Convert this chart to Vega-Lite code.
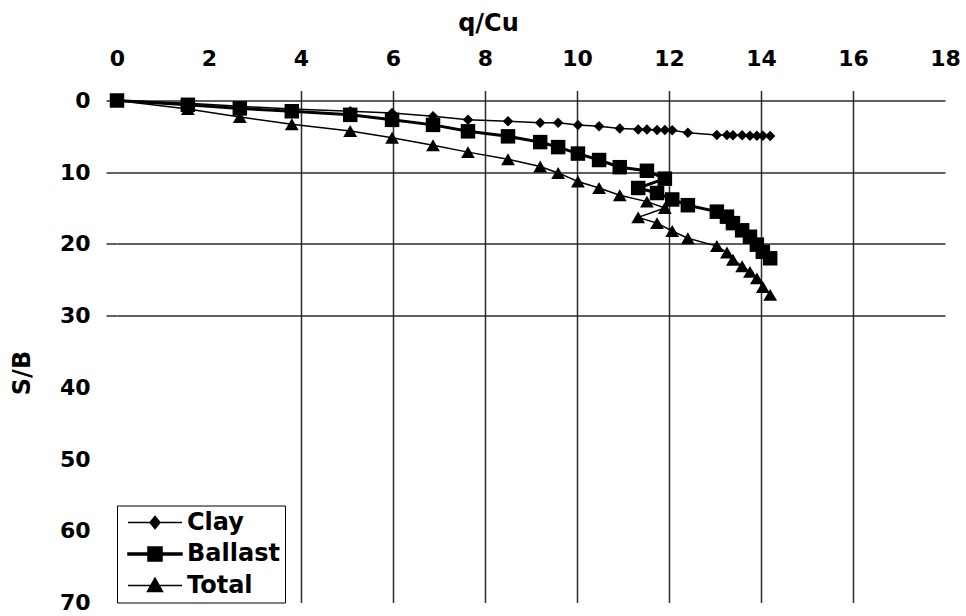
{
  "$schema": "https://vega.github.io/schema/vega-lite/v6.json",
  "width": 828,
  "height": 502,
  "autosize": {"type": "none"},
  "padding": {"left": 117, "top": 100.5, "right": 21, "bottom": 13.5},
  "background": "white",
  "config": {"view": {"stroke": null}, "font": "DejaVu Sans"},
  "data": {
    "values": [
      {"series": "Clay", "q": 0, "s": 0},
      {"series": "Clay", "q": 1.54, "s": 0.4},
      {"series": "Clay", "q": 2.67, "s": 0.8},
      {"series": "Clay", "q": 3.8, "s": 1.2},
      {"series": "Clay", "q": 5.07, "s": 1.5},
      {"series": "Clay", "q": 5.98, "s": 1.75},
      {"series": "Clay", "q": 6.87, "s": 2.2},
      {"series": "Clay", "q": 7.63, "s": 2.7},
      {"series": "Clay", "q": 8.5, "s": 2.9},
      {"series": "Clay", "q": 9.2, "s": 3.1},
      {"series": "Clay", "q": 9.59, "s": 3.1},
      {"series": "Clay", "q": 10.02, "s": 3.4},
      {"series": "Clay", "q": 10.48, "s": 3.6},
      {"series": "Clay", "q": 10.93, "s": 3.9},
      {"series": "Clay", "q": 11.52, "s": 4.05},
      {"series": "Clay", "q": 11.91, "s": 4.1},
      {"series": "Clay", "q": 11.33, "s": 4.05},
      {"series": "Clay", "q": 11.74, "s": 4.1},
      {"series": "Clay", "q": 12.07, "s": 4.15},
      {"series": "Clay", "q": 12.41, "s": 4.5},
      {"series": "Clay", "q": 13.04, "s": 4.8},
      {"series": "Clay", "q": 13.26, "s": 4.8},
      {"series": "Clay", "q": 13.39, "s": 4.85},
      {"series": "Clay", "q": 13.59, "s": 4.85},
      {"series": "Clay", "q": 13.76, "s": 4.9},
      {"series": "Clay", "q": 13.91, "s": 4.9},
      {"series": "Clay", "q": 14.04, "s": 4.9},
      {"series": "Clay", "q": 14.2, "s": 4.95},
      {"series": "Ballast", "q": 0, "s": 0},
      {"series": "Ballast", "q": 1.54, "s": 0.6},
      {"series": "Ballast", "q": 2.67, "s": 1.1},
      {"series": "Ballast", "q": 3.8, "s": 1.5},
      {"series": "Ballast", "q": 5.07, "s": 2.0},
      {"series": "Ballast", "q": 5.98, "s": 2.7},
      {"series": "Ballast", "q": 6.87, "s": 3.4},
      {"series": "Ballast", "q": 7.63, "s": 4.3},
      {"series": "Ballast", "q": 8.5, "s": 5.0},
      {"series": "Ballast", "q": 9.2, "s": 5.8},
      {"series": "Ballast", "q": 9.59, "s": 6.5},
      {"series": "Ballast", "q": 10.02, "s": 7.4},
      {"series": "Ballast", "q": 10.48, "s": 8.3},
      {"series": "Ballast", "q": 10.93, "s": 9.3},
      {"series": "Ballast", "q": 11.52, "s": 9.8},
      {"series": "Ballast", "q": 11.91, "s": 10.9},
      {"series": "Ballast", "q": 11.33, "s": 12.2},
      {"series": "Ballast", "q": 11.74, "s": 12.9},
      {"series": "Ballast", "q": 12.07, "s": 13.8},
      {"series": "Ballast", "q": 12.41, "s": 14.6},
      {"series": "Ballast", "q": 13.04, "s": 15.5},
      {"series": "Ballast", "q": 13.26, "s": 16.2},
      {"series": "Ballast", "q": 13.39, "s": 17.1},
      {"series": "Ballast", "q": 13.59, "s": 18.1},
      {"series": "Ballast", "q": 13.76, "s": 19.0},
      {"series": "Ballast", "q": 13.91, "s": 20.1},
      {"series": "Ballast", "q": 14.04, "s": 21.1},
      {"series": "Ballast", "q": 14.2, "s": 22.0},
      {"series": "Total", "q": 0, "s": 0},
      {"series": "Total", "q": 1.54, "s": 1.2},
      {"series": "Total", "q": 2.67, "s": 2.3},
      {"series": "Total", "q": 3.8, "s": 3.3},
      {"series": "Total", "q": 5.07, "s": 4.25},
      {"series": "Total", "q": 5.98, "s": 5.2},
      {"series": "Total", "q": 6.87, "s": 6.25},
      {"series": "Total", "q": 7.63, "s": 7.2},
      {"series": "Total", "q": 8.5, "s": 8.2},
      {"series": "Total", "q": 9.2, "s": 9.2},
      {"series": "Total", "q": 9.59, "s": 10.1},
      {"series": "Total", "q": 10.02, "s": 11.3},
      {"series": "Total", "q": 10.48, "s": 12.2},
      {"series": "Total", "q": 10.93, "s": 13.2},
      {"series": "Total", "q": 11.52, "s": 14.1},
      {"series": "Total", "q": 11.91, "s": 15.0},
      {"series": "Total", "q": 11.33, "s": 16.3},
      {"series": "Total", "q": 11.74, "s": 17.1},
      {"series": "Total", "q": 12.07, "s": 18.2},
      {"series": "Total", "q": 12.41, "s": 19.2},
      {"series": "Total", "q": 13.04, "s": 20.3},
      {"series": "Total", "q": 13.26, "s": 21.2},
      {"series": "Total", "q": 13.39, "s": 22.2},
      {"series": "Total", "q": 13.59, "s": 23.1},
      {"series": "Total", "q": 13.76, "s": 23.9},
      {"series": "Total", "q": 13.91, "s": 24.8},
      {"series": "Total", "q": 14.04, "s": 26.0},
      {"series": "Total", "q": 14.2, "s": 27.1}
    ]
  },
  "encoding": {
    "x": {
      "field": "q",
      "type": "quantitative",
      "scale": {"domain": [0, 18], "nice": false, "zero": false},
      "axis": {
        "orient": "top",
        "title": "q/Cu",
        "values": [0, 2, 4, 6, 8, 10, 12, 14, 16, 18],
        "domain": false,
        "grid": true,
        "gridColor": "#2b2b2b",
        "gridWidth": 1.5,
        "gridOpacity": {"condition": {"test": "datum.value >= 4 && datum.value <= 16", "value": 1}, "value": 0},
        "ticks": true,
        "tickSize": 10,
        "tickColor": "#2b2b2b",
        "tickWidth": 1.5,
        "tickOpacity": {"condition": {"test": "datum.value >= 4 && datum.value <= 16", "value": 1}, "value": 0},
        "labelFont": "DejaVu Sans",
        "labelFontSize": 22,
        "labelFontWeight": "bold",
        "labelColor": "black",
        "labelPadding": 25.5,
        "labelBaseline": "alphabetic",
        "labelFlush": false,
        "labelOverlap": false,
        "titleFont": "DejaVu Sans",
        "titleFontSize": 24,
        "titleFontWeight": "bold",
        "titleColor": "black",
        "titleX": 371,
        "titleY": -70.5,
        "titleAlign": "center",
        "titleBaseline": "alphabetic",
        "titleAngle": 0
      }
    },
    "y": {
      "field": "s",
      "type": "quantitative",
      "scale": {"domain": [0, 70], "reverse": true, "nice": false, "zero": false},
      "axis": {
        "orient": "left",
        "title": "S/B",
        "values": [0, 10, 20, 30, 40, 50, 60, 70],
        "domain": false,
        "grid": true,
        "gridColor": "#2b2b2b",
        "gridWidth": 1.5,
        "gridOpacity": {"condition": {"test": "datum.value <= 30", "value": 1}, "value": 0},
        "ticks": true,
        "tickSize": 11,
        "tickColor": "#2b2b2b",
        "tickWidth": 1.5,
        "tickOpacity": {"condition": {"test": "datum.value <= 30", "value": 1}, "value": 0},
        "labelFont": "DejaVu Sans",
        "labelFontSize": 22,
        "labelFontWeight": "bold",
        "labelColor": "black",
        "labelPadding": 16,
        "labelFlush": false,
        "labelOverlap": false,
        "titleFont": "DejaVu Sans",
        "titleFontSize": 24,
        "titleFontWeight": "bold",
        "titleColor": "black",
        "titleX": -94.5,
        "titleY": 272,
        "titleAngle": 270,
        "titleAlign": "center",
        "titleBaseline": "middle"
      }
    }
  },
  "layer": [
    {
      "mark": {"type": "line", "color": "black"},
      "encoding": {
        "order": {"value": null},
        "color": {
          "field": "series",
          "type": "nominal",
          "scale": {"domain": ["Clay", "Ballast", "Total"], "range": ["black", "black", "black"]},
          "legend": {
            "title": null,
            "orient": "bottom-left",
            "offset": 0,
            "padding": 5,
            "strokeColor": "black",
            "fillColor": "white",
            "labelFont": "DejaVu Sans",
            "labelFontSize": 24,
            "labelFontWeight": "bold",
            "labelColor": "black",
            "labelBaseline": "middle",
            "symbolSize": 400,
            "symbolOffset": 21,
            "labelOffset": 20,
            "rowPadding": 7.5,
            "symbolStrokeWidth": 1.5,
            "encode": {
              "symbols": {
                "update": {
                  "shape": [
                    {"test": "datum.value === 'Clay'", "value": "M-2.7,0H2.7M-0.5,0L0,-0.6L0.5,0L0,0.6Z"},
                    {"test": "datum.value === 'Ballast'", "value": "M-2.7,-0.09H2.7V0.09H-2.7ZM-0.7,-0.7H0.7V0.7H-0.7Z"},
                    {"value": "M-2.7,0H2.7M0,-0.75L0.75,0.6H-0.75Z"}
                  ],
                  "fill": {"value": "black"},
                  "stroke": {"value": "black"},
                  "strokeWidth": {"value": 1.5}
                }
              }
            }
          }
        },
        "strokeWidth": {"condition": {"test": "datum.series === 'Ballast'", "value": 3}, "value": 1.5}
      }
    },
    {
      "mark": {"type": "point", "filled": true, "opacity": 1, "color": "black"},
      "encoding": {
        "shape": {
          "field": "series",
          "type": "nominal",
          "scale": {"domain": ["Ballast", "Clay", "Total"], "range": ["square", "diamond", "triangle-up"]},
          "legend": null
        },
        "size": {
          "condition": [
            {"test": "datum.series === 'Ballast'", "value": 210},
            {"test": "datum.series === 'Total'", "value": 190}
          ],
          "value": 110
        }
      }
    }
  ]
}
